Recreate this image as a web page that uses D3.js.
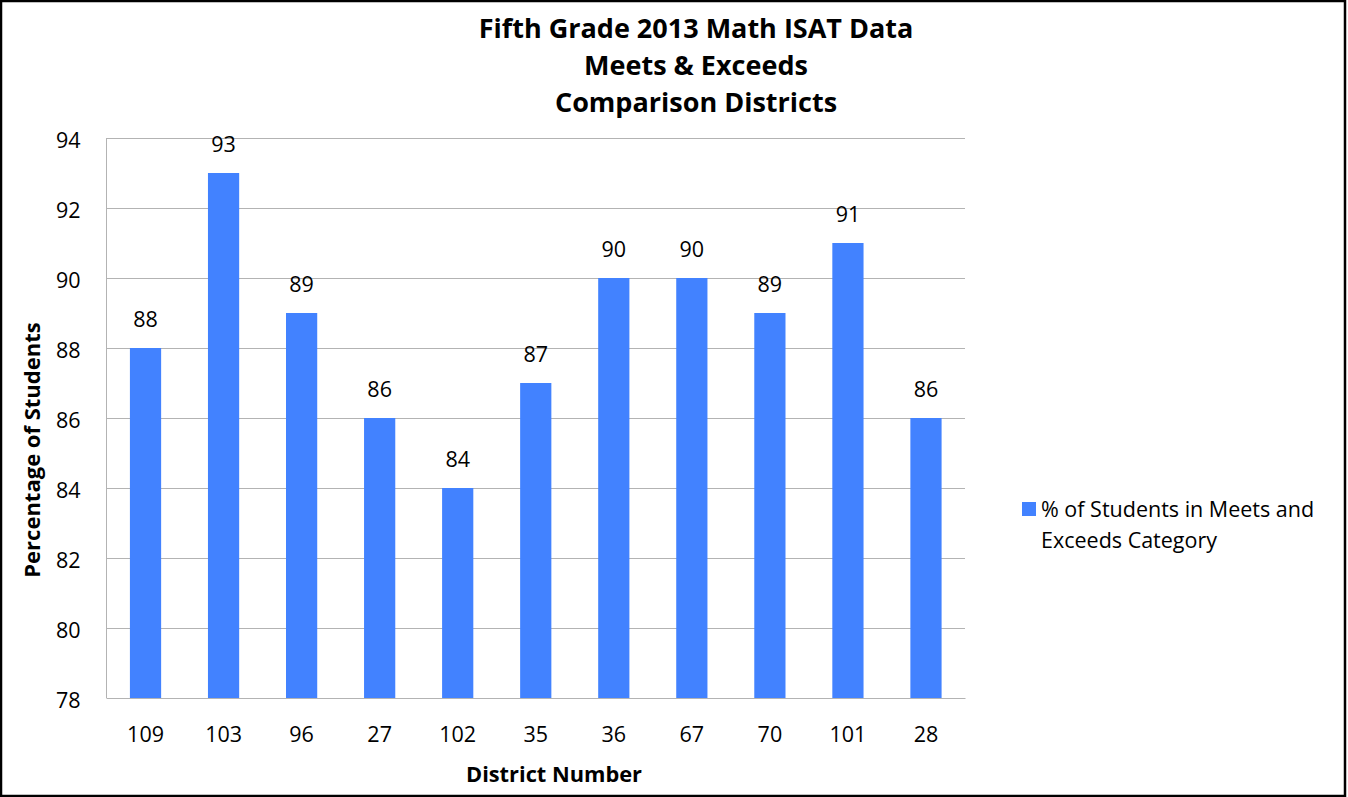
<!DOCTYPE html>
<html><head><meta charset="utf-8">
<script src="https://cdn.jsdelivr.net/npm/d3@7"></script>
<style>body{margin:0;background:#fff}svg{display:block}</style>
</head><body>
<svg id="c" width="1348" height="797"></svg>
<script>
const districts = ["109","103","96","27","102","35","36","67","70","101","28"];
const values = [88,93,89,86,84,87,90,90,89,91,86];
const yTicks = [78,80,82,84,86,88,90,92,94];
const titleLines = ["Fifth Grade 2013 Math ISAT Data","Meets & Exceeds","Comparison Districts"];
const seriesName = ["% of Students in Meets and","Exceeds Category"];

const font = "'Open Sans', 'Noto Sans', sans-serif";
const svg = d3.select("#c");
const W = 1348, H = 797;
const m = {l:106.5, t:138, r:965, b:698};
const color = "#4282FF";

svg.append("rect").attr("x",1).attr("y",1).attr("width",W-4).attr("height",H-2)
  .attr("fill","#fff").attr("stroke","#000").attr("stroke-width",2.5);

const x = d3.scaleBand().domain(districts).range([m.l, m.r]).paddingInner(0.6).paddingOuter(0.3);
const y = d3.scaleLinear().domain([78,94]).range([m.b, m.t]);

// gridlines
svg.append("g").selectAll("line").data(yTicks).join("line")
  .attr("x1",m.l).attr("x2",m.r).attr("y1",d=>Math.round(y(d))+0.5).attr("y2",d=>Math.round(y(d))+0.5)
  .attr("stroke","#b3b3b3").attr("stroke-width",1);
svg.append("line").attr("x1",m.l).attr("x2",m.l).attr("y1",m.t).attr("y2",m.b)
  .attr("stroke","#b3b3b3");

// bars
svg.append("g").selectAll("rect").data(values).join("rect")
  .attr("x",(d,i)=>x(districts[i])).attr("width",x.bandwidth())
  .attr("y",d=>y(d)).attr("height",d=>y(78)-y(d)).attr("fill",color);

// value labels
svg.append("g").selectAll("text").data(values).join("text")
  .attr("x",(d,i)=>x(districts[i])+x.bandwidth()/2).attr("y",d=>y(d)-21)
  .attr("text-anchor","middle").attr("font-family",font).attr("font-size",21.5).attr("fill","#000")
  .text(d=>d);

// y axis labels
const yAxis = d3.axisLeft(y).tickValues(yTicks).tickSize(0).tickPadding(26);
const gy = svg.append("g").attr("transform",`translate(${m.l},0)`).call(yAxis);
gy.select(".domain").remove();
gy.selectAll("text").attr("font-family",font).attr("font-size",21.5).attr("fill","#000").attr("dy","0.45em");

// x axis labels
const xAxis = d3.axisBottom(x).tickSize(0).tickPadding(29);
const gx = svg.append("g").attr("transform",`translate(0,${m.b})`).call(xAxis);
gx.select(".domain").attr("stroke","#b3b3b3");
gx.selectAll("text").attr("font-family",font).attr("font-size",21.5).attr("fill","#000");

// title
svg.append("g").selectAll("text").data(titleLines).join("text")
  .attr("x",696).attr("y",(d,i)=>38+i*37).attr("text-anchor","middle")
  .attr("font-family",font).attr("font-weight","bold").attr("font-size",27).attr("fill","#000")
  .text(d=>d);

// axis titles
svg.append("text").attr("x",554).attr("y",782).attr("text-anchor","middle")
  .attr("font-family",font).attr("font-weight","bold").attr("font-size",21.8).text("District Number");
svg.append("text").attr("transform","translate(40,450) rotate(-90)").attr("text-anchor","middle")
  .attr("font-family",font).attr("font-weight","bold").attr("font-size",22).text("Percentage of Students");

// legend
svg.append("rect").attr("x",1022).attr("y",502).attr("width",14).attr("height",14).attr("fill",color);
svg.append("g").selectAll("text").data(seriesName).join("text")
  .attr("x",1041).attr("y",(d,i)=>517+i*31)
  .attr("font-family",font).attr("font-size",21.5).attr("fill","#000").text(d=>d);
</script>
</body></html>
